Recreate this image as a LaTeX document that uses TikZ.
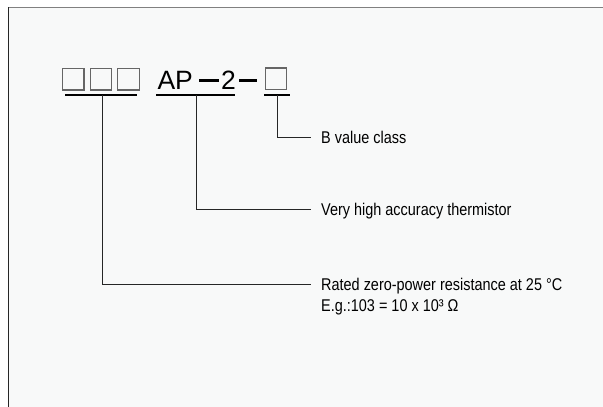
\documentclass[tikz,border=0pt]{standalone}
\usepackage{fontspec}
\setmainfont{Liberation Sans}
\newfontfamily\labelfont[FakeStretch=0.85]{Liberation Sans}
\usetikzlibrary{positioning}
\definecolor{sheet}{RGB}{248,249,249}
\newcommand{\codedash}[1]{\rule[7.3pt]{#1}{3pt}}

\begin{document}
\begin{tikzpicture}[x=1pt, y=-1pt,
  codebox/.style={draw=black!60, line width=1.2pt, minimum size=21.5pt, inner sep=0pt},
  codebar/.style={line width=2.7pt},
  leader/.style={draw=black!85, line width=0.9pt},
  labeltext/.style={font=\labelfont\fontsize{17}{20}\selectfont, anchor=west,
    inner xsep=10pt, inner ysep=0pt, text height=12.2pt, text depth=0pt}]
\useasboundingbox (0,0) rectangle (603,407);
\fill[sheet] (8,7.5) rectangle (603,407);
\draw[black!50, line width=1.3pt] (8,7.5) -- (603,7.5);
\draw[black!85, line width=1.3pt] (8.3,7) -- (8.3,407);
% part number
\foreach \i/\x in {1/73.2, 2/100.9, 3/128.4}
  \node[codebox] (d\i) at (\x,79.2) {};
\node[anchor=base west, inner sep=0pt, font=\fontsize{26.5}{30}\selectfont] (code) at (157.3,89.3)
  {AP\hspace{6.6pt}\codedash{20pt}\hspace{1.6pt}2\hspace{3.7pt}\codedash{18pt}};
\node[codebox] (d4) at (275.9,78.8) {};
% underlines
\draw[codebar] (65,95) -- (136.7,95);
\draw[codebar] (156,95) -- (235,95);
\draw[codebar] (264.3,95) -- (290,95);
\coordinate (u1) at (102.7,95);
\coordinate (u2) at (196.7,95);
\coordinate (u3) at (277.7,95);
% labels
\node[labeltext] (lab3) at (311,137.5) {B value class};
\node[labeltext] (lab2) at (311,209) {Very high accuracy thermistor};
\node[labeltext] (lab1) at (311,284.3) {Rated zero-power resistance at 25 °C};
\node[labeltext, anchor=south west] (lab1b) at ([yshift=-21pt]lab1.south west) {E.g.:103 = 10 x 10³ Ω};
\draw[leader] (u3) |- (lab3.west);
\draw[leader] (u2) |- (lab2.west);
\draw[leader] (u1) |- (lab1.west);
\end{tikzpicture}
\end{document}
